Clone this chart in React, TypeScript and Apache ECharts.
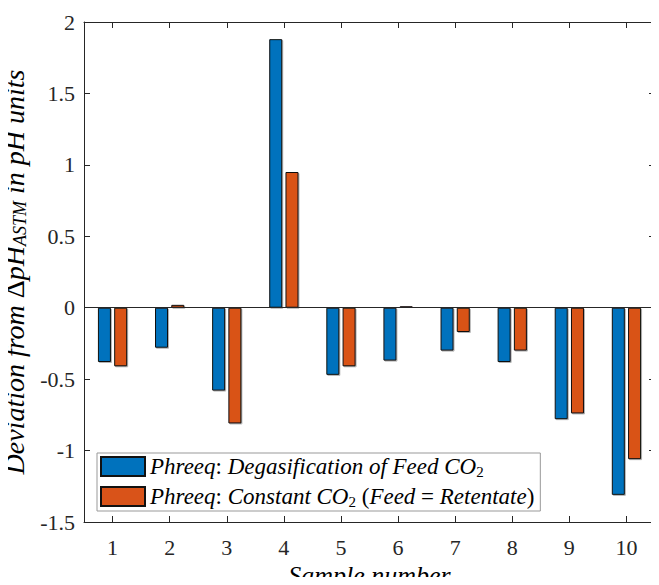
import React, { useEffect, useRef } from "react";
import * as echarts from "echarts";

const categories = ["1", "2", "3", "4", "5", "6", "7", "8", "9", "10"];
const degasification = [-0.38, -0.28, -0.58, 1.88, -0.47, -0.37, -0.3, -0.38, -0.78, -1.31];
const constantCO2 = [-0.41, 0.02, -0.81, 0.95, -0.41, 0.01, -0.17, -0.3, -0.74, -1.06];
const seriesNames = ["Degas", "Const"];

const FONT = "Liberation Serif";
const AX = "#262626";

function buildOption() {
  const barStyle = (color: string) => ({
    color,
    borderColor: "#111",
    borderWidth: 1,
    shadowColor: "rgba(0,0,0,0.3)",
    shadowOffsetX: 1,
    shadowOffsetY: 1,
    shadowBlur: 0,
  });
  const LS = 23;
  const italic = { fontFamily: FONT, fontStyle: "italic", fontSize: LS, color: "#000" };
  const upright = { fontFamily: FONT, fontStyle: "normal", fontSize: LS, color: "#000" };
  const sub = { fontFamily: FONT, fontStyle: "normal", fontSize: 15, color: "#000", padding: [10, 0, 0, 0] };
  const YS = 28;
  const subI = { fontFamily: FONT, fontStyle: "italic", fontSize: 18, color: "#000", padding: [12, 0, 0, 0] };
  return {
    animation: false,
    grid: { left: 84, right: 4, top: 22, bottom: 63, containLabel: false, outerBoundsMode: "none" },
    legend: {
      orient: "vertical",
      left: 97,
      top: 453,
      icon: "rect",
      itemWidth: 44,
      itemHeight: 19,
      itemGap: 6,
      padding: [2, 6, 2, 3],
      backgroundColor: "#fff",
      borderColor: "#999",
      borderWidth: 1,
      borderRadius: 0,
      data: seriesNames,
      formatter: (name: string) =>
        name === "Degas"
          ? "{i|Phreeq}{u|:} {i|Degasification of Feed CO}{s|2}"
          : "{i|Phreeq}{u|:} {i|Constant CO}{s|2}{u| (}{i|Feed}{u| = }{i|Retentate}{u|)}",
      textStyle: {
        fontFamily: FONT,
        fontSize: LS,
        rich: { i: italic, u: upright, s: sub },
      },
    },
    xAxis: [
      {
        type: "category",
        data: categories,
        position: "bottom",
        axisLine: { show: true, onZero: false, lineStyle: { color: AX, width: 1 } },
        axisTick: { show: true, inside: true, length: 6, alignWithLabel: true, lineStyle: { color: AX } },
        axisLabel: { fontFamily: FONT, fontSize: 22, color: "#262626", margin: 14 },
        name: "Sample number",
        nameLocation: "middle",
        nameGap: 34,
        nameTextStyle: { fontFamily: FONT, fontStyle: "italic", fontSize: 26, color: "#000" },
      },
      {
        type: "category",
        data: categories,
        position: "top",
        axisLine: { show: true, onZero: false, lineStyle: { color: AX, width: 1 } },
        axisTick: { show: true, inside: true, length: 6, alignWithLabel: true, lineStyle: { color: AX } },
        axisLabel: { show: false },
      },
    ],
    yAxis: [
      {
        type: "value",
        min: -1.5,
        max: 2,
        interval: 0.5,
        position: "left",
        axisLine: { show: true, lineStyle: { color: AX, width: 1 } },
        axisTick: { show: true, inside: true, length: 6, lineStyle: { color: AX } },
        splitLine: { show: false },
        axisLabel: { fontFamily: FONT, fontSize: 22, color: "#262626", margin: 9 },
        name: "{i|Deviation from }{u|Δ}{i|pH}{si|ASTM}{i| in pH units}",
        nameLocation: "middle",
        nameRotate: 90,
        nameGap: 49,
        nameTextStyle: {
          fontFamily: FONT,
          fontSize: YS,
          rich: { i: { ...italic, fontSize: YS }, u: { ...upright, fontSize: YS }, si: subI },
        },
      },
      {
        type: "value",
        min: -1.5,
        max: 2,
        interval: 0.5,
        position: "right",
        axisLine: { show: true, lineStyle: { color: AX, width: 1 } },
        axisTick: { show: true, inside: true, length: 6, lineStyle: { color: AX } },
        splitLine: { show: false },
        axisLabel: { show: false },
      },
    ],
    series: [
      {
        name: seriesNames[0],
        type: "bar",
        data: degasification,
        barWidth: 13,
        barGap: "25%",
        itemStyle: barStyle("#0072BD"),
        markLine: {
          silent: true,
          symbol: "none",
          label: { show: false },
          lineStyle: { color: AX, width: 1.2, type: "solid" },
          data: [{ yAxis: 0 }],
        },
      },
      {
        name: seriesNames[1],
        type: "bar",
        data: constantCO2,
        barWidth: 13,
        barGap: "25%",
        itemStyle: barStyle("#D95319"),
      },
    ],
  };
}

export default function App() {
  const ref = useRef<HTMLDivElement>(null);
  useEffect(() => {
    if (!ref.current) return;
    const chart = echarts.init(ref.current, undefined, { renderer: "svg" });
    chart.setOption(buildOption() as any);
    return () => {
      chart.dispose();
    };
  }, []);
  return (
    <div style={{ position: "relative", margin: -8, width: 659, height: 585, overflow: "hidden" }}>
      <div ref={ref} style={{ position: "absolute", left: 0, top: 0, width: 659, height: 585, background: "#fff" }} />
    </div>
  );
}
